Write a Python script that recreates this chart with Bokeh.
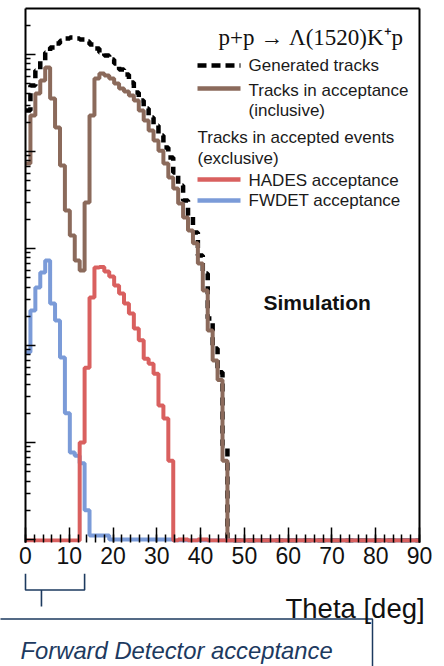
from bokeh.plotting import figure
from bokeh.models import (Range1d, FixedTicker, SingleIntervalTicker, LogAxis, LinearAxis,
                          CustomJSTickFormatter, Label)
from bokeh.embed import file_html
from bokeh.resources import INLINE
from bokeh.core.properties import value

# ---------------- data ----------------
BIN_WIDTH = 1.125          # deg
N_BINS = 80                # 0 .. 90 deg
FWD_ACCEPTANCE = [0.0, 13.5]

generated = [26500, 47900, 68400, 86700, 105000, 118000, 130000, 139000, 146000, 150000,
             146000, 143000, 136000, 127000, 115000, 105000, 97700, 88800, 80800, 70000,
             62200, 51400, 40600, 33500, 27800, 22400, 18500, 14600, 11000, 8670,
             6080, 4460, 3130, 2190, 1460, 847, 552, 190, 93, 53, 9.3]
inclusive = [7520, 23500, 39600, 54000, 73500, 35200, 17700, 7170, 2460, 1360,
             752, 593, 2980, 23500, 56600, 63700, 60800, 56600, 50200, 44600,
             41600, 37800, 33500, 26500, 20900, 16500, 13000, 10200, 7520, 5400,
             4150, 2910, 2090, 1530, 1130, 700, 369, 143, 70, 44, 6.5]
hades = [0, 0, 0, 0, 0, 0, 0, 0, 0, 0,
         0, 10, 59, 313, 637, 645, 579, 514, 415, 344,
         271, 214, 150, 113, 73, 65, 51, 24, 17.7, 6.5,
         0, 1, 1, 0, 0, 1, 1]
fwdet = [85, 230, 396, 566, 752, 271, 181, 75, 20, 7.9,
         7.3, 6.1, 2.0, 1.1, 1.1, 1.1, 1.1, 1.0, 1.0, 1.0,
         1.0, 1.0, 1.0, 1.0, 1.0, 1.0, 1.0, 1.0, 1.0, 1.0]

# ---------------- layout constants ----------------
W = 444
H_MAIN = 573
H_LOW = 666 - H_MAIN
FRAME_L, FRAME_R, FRAME_T, FRAME_B = 25, 419, 8, 542
LOG_TOP = 531 / 97
LOG_BOT = -3 / 97
Y_MIN, Y_MAX = 10 ** LOG_BOT, 10 ** LOG_TOP
ZERO_LEVEL = 10 ** (-1 / 97)

BLACK = "#000000"
BROWN = "#8b6a5b"
RED = "#d9605f"
BLUE = "#7b9bd8"
NAVY = "#1d3a5f"
TXT = "#1a1a1a"
SANS = "Liberation Sans"


def to_theta(px):
    return (px - FRAME_L) / (FRAME_R - FRAME_L) * 90.0


def to_val(py):
    return 10 ** (LOG_BOT + (FRAME_B - py) / (FRAME_B - FRAME_T) * (LOG_TOP - LOG_BOT))


edges = [i * BIN_WIDTH for i in range(N_BINS + 1)]


def step_vals(vals):
    full = list(vals) + [0] * (N_BINS - len(vals))
    full = [v if v > 0 else ZERO_LEVEL for v in full]
    return full + [full[-1]]


# ---------------- main plot ----------------
p = figure(width=W, height=H_MAIN, x_range=Range1d(0, 90), y_range=Range1d(Y_MIN, Y_MAX),
           y_axis_type="log", output_backend="svg", toolbar_location=None,
           min_border_left=FRAME_L, min_border_right=W - FRAME_R,
           min_border_top=FRAME_T, min_border_bottom=H_MAIN - FRAME_B)
p.outline_line_color = None
p.grid.visible = False
p.background_fill_color = "white"
p.border_fill_color = "white"

xa = p.xaxis[0]
xa.ticker = SingleIntervalTicker(interval=10, num_minor_ticks=5)
xa.axis_line_color = None
xa.major_tick_in = 15
xa.major_tick_out = 0
xa.minor_tick_in = 8
xa.minor_tick_out = 0
xa.major_tick_line_width = 1.5
xa.minor_tick_line_width = 1.5
xa.major_tick_line_color = BLACK
xa.minor_tick_line_color = BLACK
xa.major_label_text_font = SANS
xa.major_label_text_font_size = "23px"
xa.major_label_text_color = "#111111"
xa.major_label_standoff = 4

ya = p.yaxis[0]
ya.ticker = FixedTicker(ticks=[10 ** k for k in range(0, 6)],
                        minor_ticks=[m * 10 ** k for k in range(-1, 6) for m in range(2, 10)])
ya.formatter = CustomJSTickFormatter(code="return ''")
ya.axis_line_width = 2
ya.axis_line_color = BLACK
ya.major_tick_in = 10
ya.major_tick_out = 0
ya.minor_tick_in = 5
ya.minor_tick_out = 0
ya.major_tick_line_width = 1.5
ya.minor_tick_line_width = 1.5
ya.major_label_standoff = 0

for loc, Ax in (("above", LinearAxis), ("right", LogAxis)):
    ax = Ax(ticker=FixedTicker(ticks=[]), formatter=CustomJSTickFormatter(code="return ''"),
            axis_line_width=2, axis_line_color=BLACK, major_tick_in=0, major_tick_out=0,
            minor_tick_in=0, minor_tick_out=0, major_label_standoff=0)
    p.add_layout(ax, loc)

p.step(edges, step_vals(generated), mode="after", line_color=BLACK, line_width=4.5, line_dash="8 6")
p.step(edges, step_vals(inclusive), mode="after", line_color=BROWN, line_width=4)
p.step(edges, step_vals(fwdet), mode="after", line_color=BLUE, line_width=4)
p.step(edges, step_vals(hades), mode="after", line_color=RED, line_width=4)


def lbl(text, px, py, size="16px", font=SANS, style="normal", color=TXT, align="left"):
    p.add_layout(Label(x=px - FRAME_L, y=FRAME_B - py, x_units="screen", y_units="screen",
                       text=text, text_font=font, text_font_size=size, text_font_style=style,
                       text_color=color, text_align=align, text_baseline="middle"))


lbl("p+p \u2192 \u039b(1520)K\u207ap", 218, 37, size="23px", font="Liberation Serif", color="#111111")
lbl("Generated tracks", 248, 64.5, size="17px")
lbl("Tracks in acceptance", 248, 89.5, size="17px")
lbl("(inclusive)", 248, 110, size="17px")
lbl("Tracks in accepted events", 197, 136.5, size="17px")
lbl("(exclusive)", 197, 157.5, size="17px")
lbl("HADES acceptance", 248, 179.5, size="17px")
lbl("FWDET acceptance", 248, 199.5, size="17px")
lbl("Simulation", 263, 301.5, size="21px", style="bold", color="#111111")

leg = [(65, BLACK, "9 5"), (88, BROWN, "solid"), (179, RED, "solid"), (200, BLUE, "solid")]
for py, col, dash in leg:
    p.segment(x0=[to_theta(197)], y0=[to_val(py)], x1=[to_theta(240)], y1=[to_val(py)],
              line_color=col, line_width=4.5, line_dash=dash)

# ---------------- lower panel (bracket, axis title, caption box) ----------------
q = figure(width=W, height=H_LOW, x_range=Range1d(to_theta(0), to_theta(W)),
           y_range=Range1d(H_LOW, 0), output_backend="svg", toolbar_location=None,
           x_axis_location=None, y_axis_location=None,
           min_border_left=0, min_border_right=0, min_border_top=0, min_border_bottom=0)
q.outline_line_color = None
q.grid.visible = False
q.background_fill_color = "white"
q.border_fill_color = "white"

a0, a1 = FWD_ACCEPTANCE
stem = a0 + 0.27 * (a1 - a0)
q.multi_line(xs=[[a0, a0, a1, a1], [stem, stem]], ys=[[0, 16.5, 16.5, 0], [16.5, 33]],
             line_color=NAVY, line_width=1.6)
q.add_layout(Label(x=285, y=H_LOW - 35, x_units="screen", y_units="screen",
                   text="Theta [deg]", text_align="left", text_baseline="alphabetic",
                   text_font=SANS, text_font_size="27.5px", text_color="#111111"))
q.quad(left=[to_theta(-5)], right=[to_theta(372)], top=[45.5], bottom=[140],
       fill_color=None, line_color=NAVY, line_width=1.5)
q.text(x=[to_theta(20)], y=[77], text=["Forward Detector acceptance"], text_align="left",
       text_baseline="alphabetic", text_font=value(SANS), text_font_size="23.8px",
       text_font_style="italic", text_color=NAVY)

open("out.html", "w").write(file_html([p, q], INLINE))
